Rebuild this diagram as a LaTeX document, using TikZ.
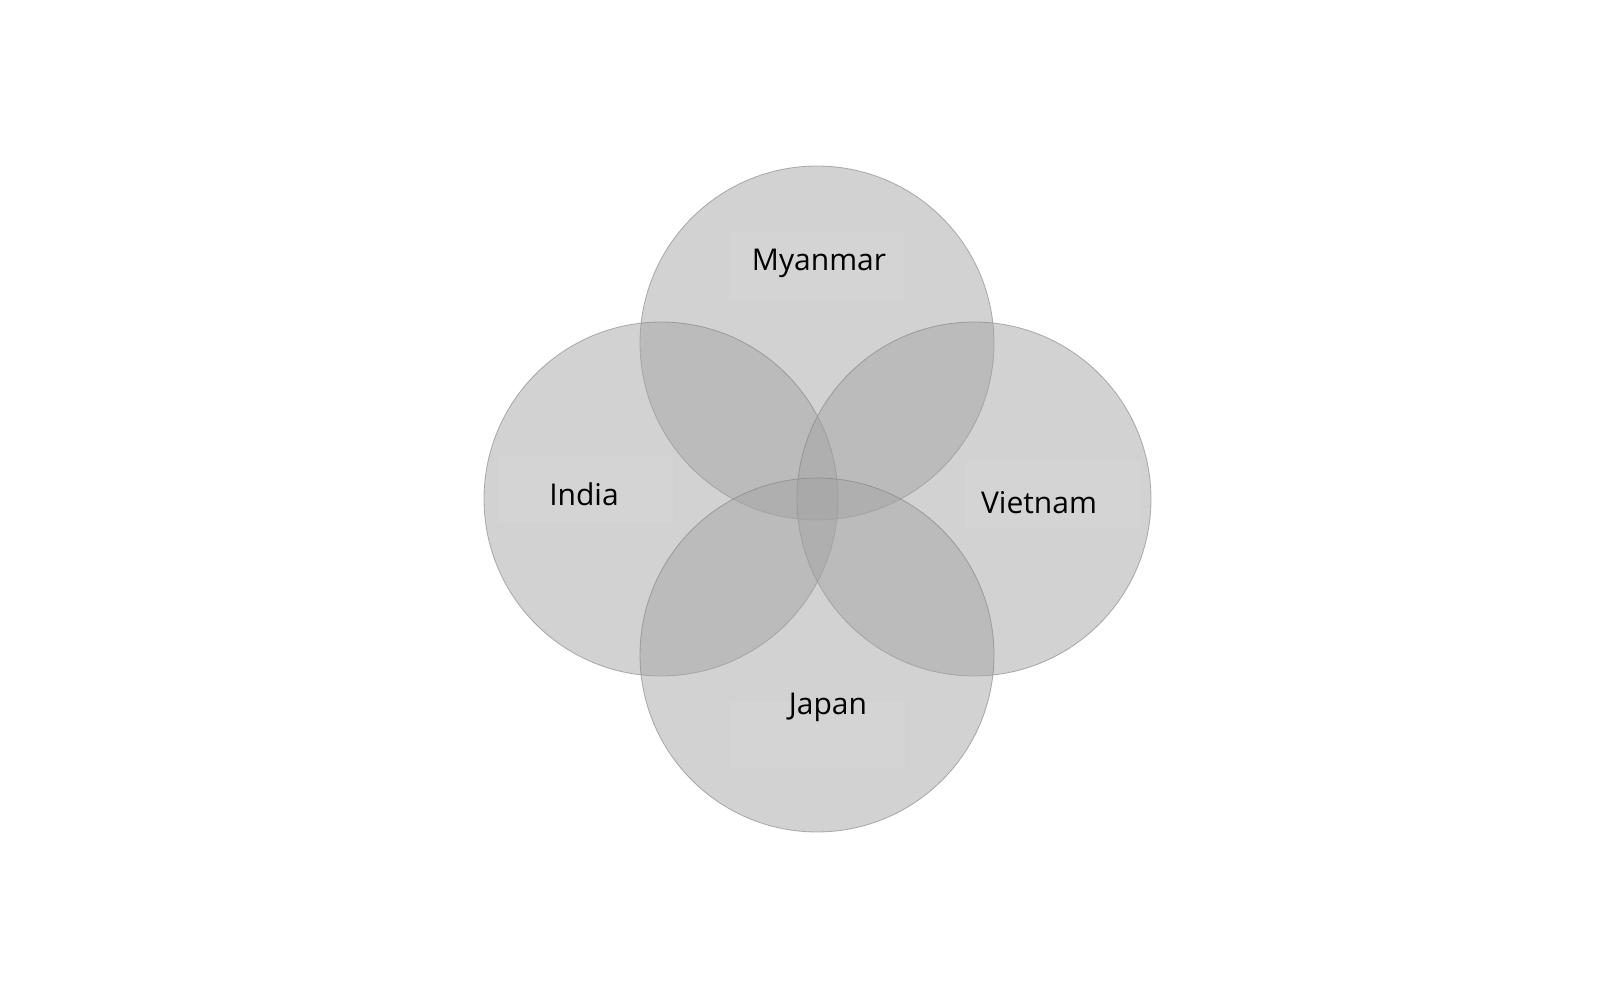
\documentclass[tikz,border=0pt]{standalone}
\usepackage{fontspec}
\setmainfont{Open Sans}
\definecolor{circfill}{gray}{0.64}
\definecolor{circline}{gray}{0.5}
\definecolor{boxg}{gray}{0.83}
\tikzset{
  venn/.style={circle, minimum size=354pt, inner sep=0pt, fill=circfill, fill opacity=0.48, draw=circline, draw opacity=0.6, line width=0.8pt},
  tbox/.style={rectangle, fill=boxg, draw=none, inner sep=0pt, minimum width=174pt, minimum height=67pt},
  lbl/.style={anchor=base, inner sep=0pt, font=\fontsize{30}{36}\selectfont, text=black}
}
\begin{document}
\begin{tikzpicture}[x=1pt,y=-1pt]
\useasboundingbox (0,0) rectangle (1620,1000);
\fill[white] (0,0) rectangle (1620,1000);
\node[venn] (cm) at (817,343) {};
\node[venn] (ci) at (661,499) {};
\node[venn] (cv) at (974,499) {};
\node[venn] (cj) at (817,655) {};
\node[tbox] (bm) at (817,266) {};
\node[tbox] (bi) at (586,488) {};
\node[tbox] (bv) at (1053,494) {};
\node[tbox] (bj) at (818,735) {};
\node[lbl] (lm) at (819,271) {Myanmar};
\node[lbl] (li) at (584,505) {India};
\node[lbl] (lv) at (1039,513) {Vietnam};
\node[lbl] (lj) at (828,714) {Japan};
\end{tikzpicture}
\end{document}
